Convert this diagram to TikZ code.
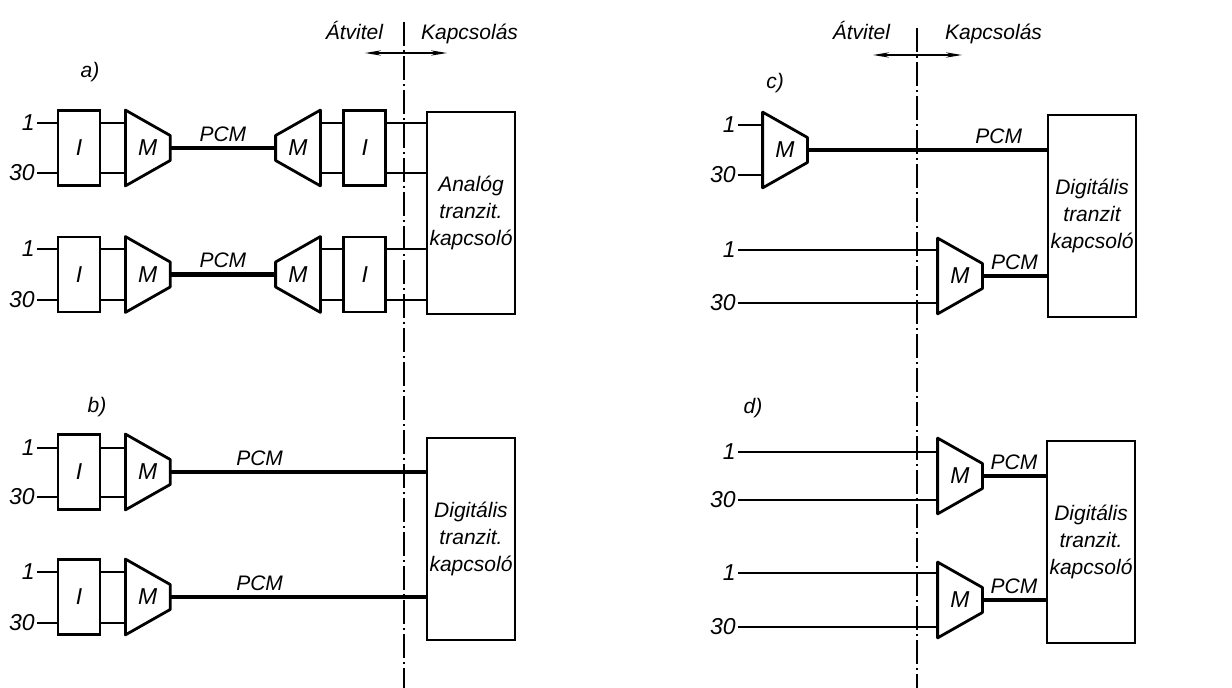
\documentclass[tikz,border=0pt]{standalone}
\usepackage{fontspec}
\setmainfont{Liberation Sans}
\usetikzlibrary{positioning,arrows.meta}

\begin{document}
\begin{tikzpicture}[x=0.5pt,y=-0.5pt,
      font=\itshape\fontsize{10.5}{13.5}\selectfont,
      wire/.style={line width=0.9pt},
      pcm/.style={line width=2.4pt},
      sep/.style={line width=0.9pt,dash pattern=on 12pt off 2pt on 1pt off 2pt},
      blk/.style={rectangle,draw,line width=1.4pt,minimum width=21pt,minimum height=37.5pt,inner sep=0pt,font=\itshape\fontsize{11.5}{13.5}\selectfont},
      kpc/.style={rectangle,draw,line width=1.4pt,minimum width=44pt,minimum height=101pt,align=center,inner sep=0pt},
      mux/.style={rectangle,minimum width=22pt,minimum height=37.5pt,inner sep=0pt,font=\itshape\fontsize{11.5}{13.5}\selectfont,
        append after command={\pgfextra{\draw[line width=1.4pt,line join=round]
          (\tikzlastnode.north west) -- ([yshift=6.25pt]\tikzlastnode.east)
          -- ([yshift=-6.25pt]\tikzlastnode.east) -- (\tikzlastnode.south west) -- cycle;}}},
      demux/.style={rectangle,minimum width=22pt,minimum height=37.5pt,inner sep=0pt,font=\itshape\fontsize{11.5}{13.5}\selectfont,
        append after command={\pgfextra{\draw[line width=1.4pt,line join=round]
          (\tikzlastnode.north east) -- ([yshift=6.25pt]\tikzlastnode.west)
          -- ([yshift=-6.25pt]\tikzlastnode.west) -- (\tikzlastnode.south east) -- cycle;}}},
      num/.style={anchor=east,inner sep=1pt,font=\itshape\fontsize{11.5}{13.5}\selectfont},
      tag/.style={above=1pt,inner sep=1pt},
      dir/.style={<->,>={Stealth[length=8pt,width=2.6pt]},line width=0.9pt}]
      \useasboundingbox (0,0) rectangle (1232,688);

      % a) analog transit switch
      \node[anchor=base east] (ata) at (390,40) {Átvitel};
      \node[anchor=base west] (kpa) at (414,40) {Kapcsolás};
      \coordinate (ara) at (365,53);
      \coordinate (arb) at (447,53);
      \draw[dir] (ara) -- (arb);
      \coordinate (sat) at (404,22);
      \coordinate (sab) at (404,688);
      \draw[sep] (sat) -- (sab);
      \node (lba) at (90,72) {a)};
      \node[kpc] (akp) at (471,213) {Analóg\\tranzit.\\kapcsoló};

      \node[blk] (a1i) at (79,148) {I};
      \node[mux,right=12pt of a1i] (a1m) {M};
      \node[demux] (a1n) at (298,148) {M};
      \node[blk,right=11pt of a1n] (a1j) {I};
      \node[num] (a1p) at (37,123) {1};
      \node[num] (a1q) at (37,173) {30};
      \draw[wire] (a1p.east) -- (a1p -| a1i.west) (a1q.east) -- (a1q -| a1i.west);
      \draw[wire] (a1p -| a1i.east) -- (a1p -| a1m.west) (a1q -| a1i.east) -- (a1q -| a1m.west);
      \draw[pcm] (a1m.east) -- (a1n.west) node[tag,midway] {PCM};
      \draw[wire] (a1p -| a1n.east) -- (a1p -| a1j.west) (a1q -| a1n.east) -- (a1q -| a1j.west);
      \draw[wire] (a1p -| a1j.east) -- (a1p -| akp.west) (a1q -| a1j.east) -- (a1q -| akp.west);

      \node[blk] (a2i) at (79,274.5) {I};
      \node[mux,right=12pt of a2i] (a2m) {M};
      \node[demux] (a2n) at (298,274.5) {M};
      \node[blk,right=11pt of a2n] (a2j) {I};
      \node[num] (a2p) at (37,249) {1};
      \node[num] (a2q) at (37,300) {30};
      \draw[wire] (a2p.east) -- (a2p -| a2i.west) (a2q.east) -- (a2q -| a2i.west);
      \draw[wire] (a2p -| a2i.east) -- (a2p -| a2m.west) (a2q -| a2i.east) -- (a2q -| a2m.west);
      \draw[pcm] (a2m.east) -- (a2n.west) node[tag,midway] {PCM};
      \draw[wire] (a2p -| a2n.east) -- (a2p -| a2j.west) (a2q -| a2n.east) -- (a2q -| a2j.west);
      \draw[wire] (a2p -| a2j.east) -- (a2p -| akp.west) (a2q -| a2j.east) -- (a2q -| akp.west);

      % b) digital transit switch
      \node (lbb) at (97,407) {b)};
      \node[kpc] (bkp) at (471,539) {Digitális\\tranzit.\\kapcsoló};

      \node[blk] (b1i) at (79,472) {I};
      \node[mux,right=12pt of b1i] (b1m) {M};
      \node[num] (b1p) at (37,448) {1};
      \node[num] (b1q) at (37,497) {30};
      \draw[wire] (b1p.east) -- (b1p -| b1i.west) (b1q.east) -- (b1q -| b1i.west);
      \draw[wire] (b1p -| b1i.east) -- (b1p -| b1m.west) (b1q -| b1i.east) -- (b1q -| b1m.west);
      \draw[pcm] (b1m.east) -- (b1m.east -| bkp.west) node[tag,pos=0.35] {PCM};

      \node[blk] (b2i) at (79,597) {I};
      \node[mux,right=12pt of b2i] (b2m) {M};
      \node[num] (b2p) at (37,572) {1};
      \node[num] (b2q) at (37,623) {30};
      \draw[wire] (b2p.east) -- (b2p -| b2i.west) (b2q.east) -- (b2q -| b2i.west);
      \draw[wire] (b2p -| b2i.east) -- (b2p -| b2m.west) (b2q -| b2i.east) -- (b2q -| b2m.west);
      \draw[pcm] (b2m.east) -- (b2m.east -| bkp.west) node[tag,pos=0.35] {PCM};

      % c) multiplexer on either side
      \node[anchor=base east] (atc) at (897,40) {Átvitel};
      \node[anchor=base west] (kpc) at (938,40) {Kapcsolás};
      \coordinate (arc) at (873,55);
      \coordinate (ard) at (962,55);
      \draw[dir] (arc) -- (ard);
      \coordinate (sct) at (917,28);
      \coordinate (scb) at (917,688);
      \draw[sep] (sct) -- (scb);
      \node (lbc) at (775,83) {c)};
      \node[kpc] (ckp) at (1092,216) {Digitális\\tranzit\\kapcsoló};

      \node[mux] (c1m) at (785,150) {M};
      \node[num] (c1p) at (738,125) {1};
      \node[num] (c1q) at (738,175) {30};
      \draw[wire] (c1p.east) -- (c1p -| c1m.west) (c1q.east) -- (c1q -| c1m.west);
      \draw[pcm] (c1m.east) -- (c1m.east -| ckp.west) node[tag,pos=0.8] {PCM};

      \node[mux] (c2m) at (960,276) {M};
      \node[num] (c2p) at (738,250) {1};
      \node[num] (c2q) at (738,303) {30};
      \draw[wire] (c2p.east) -- (c2p -| c2m.west) (c2q.east) -- (c2q -| c2m.west);
      \draw[pcm] (c2m.east) -- (c2m.east -| ckp.west) node[tag,midway] {PCM};

      % d) multiplexer at the switch
      \node (lbd) at (753,408) {d)};
      \node[kpc] (dkp) at (1091,542) {Digitális\\tranzit.\\kapcsoló};

      \node[mux] (d1m) at (960,476) {M};
      \node[num] (d1p) at (738,452) {1};
      \node[num] (d1q) at (738,500) {30};
      \draw[wire] (d1p.east) -- (d1p -| d1m.west) (d1q.east) -- (d1q -| d1m.west);
      \draw[pcm] (d1m.east) -- (d1m.east -| dkp.west) node[tag,midway] {PCM};

      \node[mux] (d2m) at (960,600) {M};
      \node[num] (d2p) at (738,573) {1};
      \node[num] (d2q) at (738,627) {30};
      \draw[wire] (d2p.east) -- (d2p -| d2m.west) (d2q.east) -- (d2q -| d2m.west);
      \draw[pcm] (d2m.east) -- (d2m.east -| dkp.west) node[tag,midway] {PCM};
    \end{tikzpicture}
\end{document}
